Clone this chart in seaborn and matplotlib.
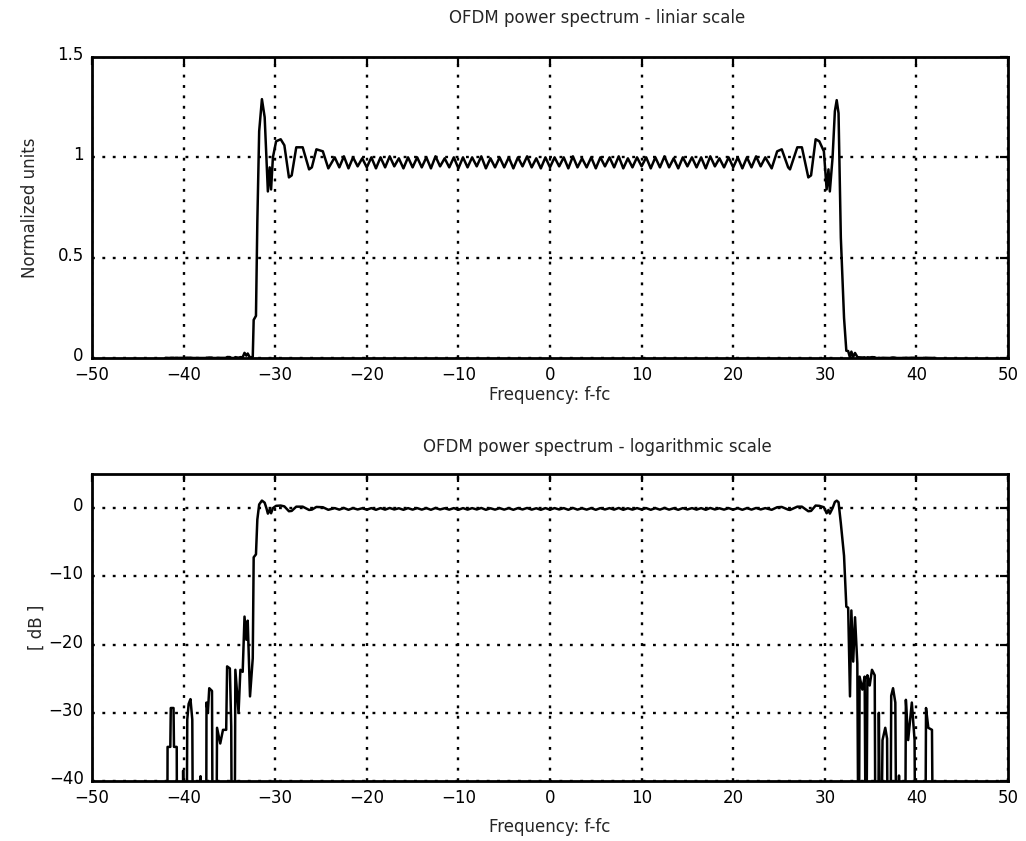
import numpy as np
import pandas as pd
import matplotlib
matplotlib.use("Agg")
import matplotlib.pyplot as plt
import matplotlib.transforms as mtransforms
import seaborn as sns

# ---------------- data ----------------
# left out-of-band part, values in dB
left_oob_freq = [-42.0, -41.8, -41.75, -41.45, -41.4, -41.1, -41.05, -40.75, -40.7,
                 -40.15, -40.05, -39.85, -39.7, -39.6, -39.45, -39.25, -39.05, -38.95,
                 -38.25, -38.15, -38.05, -37.55, -37.5, -37.35, -37.2, -36.9, -36.8,
                 -36.45, -36.35, -36.0, -35.7, -35.35, -35.25, -34.95, -34.8, -34.7,
                 -34.45, -34.35, -34.0, -33.8, -33.55, -33.35, -33.15, -33.0, -32.75,
                 -32.45]
left_oob_db = [-60, -60, -35, -35, -29.3, -29.3, -35, -35, -60,
               -60, -38.5, -60, -60, -31, -28.7, -28.0, -31, -60,
               -60, -39.3, -60, -60, -28.5, -30, -26.4, -26.8, -60,
               -60, -32.2, -34.5, -32.5, -32.5, -23.2, -23.5, -32, -60,
               -60, -23.7, -30, -23.7, -24, -15.9, -19.3, -16.5, -27.6,
               -22.0]

# left band edge, linear units
left_edge_freq = [-32.35, -32.1, -31.95, -31.75, -31.45, -31.15, -30.95, -30.8, -30.6,
                  -30.45, -30.25, -29.9, -29.4, -29.0, -28.5, -28.2, -27.7, -27.0,
                  -26.3, -26.0, -25.5, -24.8, -24.2]
left_edge_lin = [0.19, 0.21, 0.68, 1.13, 1.29, 1.20, 0.99, 0.83, 0.95,
                 0.84, 1.00, 1.08, 1.09, 1.06, 0.90, 0.91, 1.05, 1.05,
                 0.94, 0.95, 1.04, 1.03, 0.945]

# in-band ripple, linear units
ripple_freq = [-23.5, -23.0, -22.5, -22.0, -21.5, -21.0, -20.5, -20.0, -19.5, -19.0,
               -18.5, -18.0, -17.5, -17.0, -16.5, -16.0, -15.5, -15.0, -14.5, -14.0,
               -13.5, -13.0, -12.5, -12.0, -11.5, -11.0, -10.5, -10.0, -9.5, -9.0,
               -8.5, -8.0, -7.5, -7.0, -6.5, -6.0, -5.5, -5.0, -4.5, -4.0,
               -3.5, -3.0, -2.5, -2.0, -1.5, -1.0, -0.5, 0.0, 0.5, 1.0,
               1.5, 2.0, 2.5, 3.0, 3.5, 4.0, 4.5, 5.0, 5.5, 6.0,
               6.5, 7.0, 7.5, 8.0, 8.5, 9.0, 9.5, 10.0, 10.5, 11.0,
               11.5, 12.0, 12.5, 13.0, 13.5, 14.0, 14.5, 15.0, 15.5, 16.0,
               16.5, 17.0, 17.5, 18.0, 18.5, 19.0, 19.5, 20.0, 20.5, 21.0,
               21.5, 22.0, 22.5, 23.0, 23.5]
ripple_lin = [1.000, 0.950, 1.005, 0.945, 1.000, 0.955, 0.995, 0.950, 1.000, 0.945,
              1.000, 0.950, 1.005, 0.955, 0.995, 0.945, 1.000, 0.950, 1.000, 0.950,
              1.000, 0.945, 1.005, 0.955, 0.995, 0.950, 1.000, 0.945, 1.000, 0.950,
              1.000, 0.955, 1.005, 0.945, 0.995, 0.950, 1.000, 0.950, 1.000, 0.945,
              1.000, 0.955, 1.005, 0.950, 0.995, 0.945, 1.000, 0.950, 1.000, 0.955,
              1.000, 0.945, 1.005, 0.950, 0.995, 0.950, 1.000, 0.945, 1.000, 0.955,
              1.000, 0.950, 1.005, 0.945, 0.995, 0.950, 1.000, 0.955, 1.000, 0.945,
              1.000, 0.950, 1.005, 0.950, 0.995, 0.945, 1.000, 0.955, 1.000, 0.950,
              1.000, 0.945, 1.005, 0.955, 0.995, 0.950, 1.000, 0.950, 1.000, 0.945,
              1.000, 0.950, 1.005, 0.955, 1.000]

# right band edge, linear units
right_edge_freq = [24.2, 24.8, 25.3, 26.0, 26.2, 27.0, 27.5, 28.2, 28.5,
                   29.0, 29.4, 29.9, 30.2, 30.4, 30.55, 30.85, 31.1, 31.3,
                   31.5, 31.75, 32.1, 32.35]
right_edge_lin = [0.945, 1.03, 1.04, 0.95, 0.94, 1.05, 1.05, 0.90, 0.91,
                  1.09, 1.08, 1.03, 0.84, 0.94, 0.83, 1.00, 1.23, 1.285,
                  1.22, 0.60, 0.20, 0.036]

# right out-of-band part, values in dB
right_oob_freq = [32.55, 32.75, 32.9, 33.1, 33.3, 33.55, 33.7, 33.8, 34.1, 34.35, 34.5,
                  34.65, 34.9, 35.15, 35.45, 35.55, 35.8, 35.9, 36.1, 36.3, 36.6,
                  36.8, 36.9, 37.15, 37.25, 37.45, 37.7, 37.85, 38.1, 38.3, 38.75,
                  38.85, 39.1, 39.5, 39.8, 39.9, 40.95, 41.05, 41.3, 41.7, 41.85, 42.0]
right_oob_db = [-14.6, -27.6, -15.0, -22.5, -16.0, -22.8, -60, -24.7, -26.6, -24.7, -60,
                -24.5, -26.0, -23.7, -24.5, -60, -60, -30, -60, -34, -32.2,
                -33.8, -60, -60, -27.5, -26.4, -28.5, -60, -39.2, -60, -60,
                -28.1, -34, -28.5, -34, -60, -60, -29.3, -32.2, -32.5, -60, -60]

x_ticks = [-50, -40, -30, -20, -10, 0, 10, 20, 30, 40, 50]
lin_ticks = [0, 0.5, 1, 1.5]
lin_tick_labels = ["0", "0.5", "1", "1.5"]
db_ticks = [-40, -30, -20, -10, 0]

title_top = "OFDM power spectrum - liniar scale"
title_bottom = "OFDM power spectrum - logarithmic scale"
x_label = "Frequency: f-fc"
y_label_top = "Normalized units"
y_label_bottom = "[ dB ]"

# ---------------- assemble ----------------
freq = np.array(left_oob_freq + left_edge_freq + ripple_freq + right_edge_freq + right_oob_freq)
power_lin = np.concatenate([
    10 ** (np.array(left_oob_db) / 10.0),
    np.array(left_edge_lin),
    np.array(ripple_lin),
    np.array(right_edge_lin),
    10 ** (np.array(right_oob_db) / 10.0),
])
df = pd.DataFrame({"freq": freq, "lin": power_lin, "db": 10 * np.log10(power_lin)})

# ---------------- plot ----------------
sns.set_theme(style="white")
plt.rcParams["font.family"] = ["DejaVu Sans"]
plt.rcParams["axes.unicode_minus"] = True

fig = plt.figure(figsize=(10.26, 8.41), dpi=100)
W, H = 1026.0, 841.0
ax1 = fig.add_axes([92 / W, 1 - 358 / H, (1008 - 92) / W, (358 - 57) / H])
ax2 = fig.add_axes([92 / W, 1 - 781 / H, (1008 - 92) / W, (781 - 474) / H])

fs = 12
for ax, ycol in ((ax1, "lin"), (ax2, "db")):
    sns.lineplot(data=df, x="freq", y=ycol, ax=ax, color="black", linewidth=1.8,
                 estimator=None, sort=False, legend=False)
    ax.set_xlim(-50, 50)
    ax.set_xticks(x_ticks)
    ax.set_axisbelow(True)
    ax.grid(True, color="black", linestyle=(0, (1.2, 3.2)), linewidth=1.7)
    for s in ax.spines.values():
        s.set_visible(True)
        s.set_color("black")
        s.set_linewidth(2.0)
    ax.tick_params(direction="in", length=6, width=1.6, top=True, right=True,
                   labelsize=fs, colors="black")
    ax.tick_params(axis="x", pad=6)
    ax.tick_params(axis="y", pad=6)

ax1.set_xlabel(x_label, fontsize=fs, labelpad=1)
ax2.set_xlabel(x_label, fontsize=fs, labelpad=8)

ax1.set_ylim(0, 1.5)
ax1.set_yticks(lin_ticks)
ax1.set_yticklabels(lin_tick_labels)
ax1.set_ylabel(y_label_top, fontsize=fs, labelpad=13)

ax2.set_ylim(-40, 5)
ax2.set_yticks(db_ticks)
ax2.set_ylabel(y_label_bottom, fontsize=fs, labelpad=2)

# lift the y tick labels a few pixels, as in the reference
lift = mtransforms.ScaledTranslation(0, 4 / 100.0, fig.dpi_scale_trans)
for ax in (ax1, ax2):
    for lab in ax.get_yticklabels():
        lab.set_transform(lab.get_transform() + lift)

fig.text(597 / W, 1 - 18 / H, title_top, ha="center", va="center", fontsize=fs)
fig.text(597 / W, 1 - 447 / H, title_bottom, ha="center", va="center", fontsize=fs)

fig.savefig("out.png", dpi=100)
